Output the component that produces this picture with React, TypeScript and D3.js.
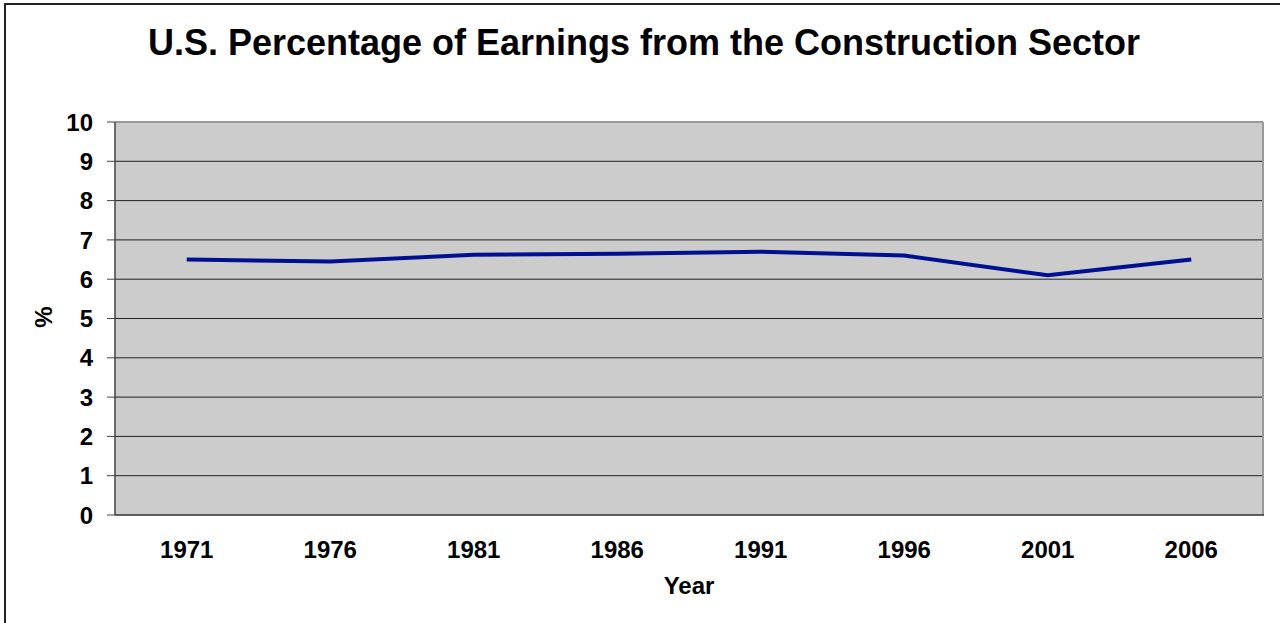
import React from "react";
import * as d3 from "d3";

const years = ["1971", "1976", "1981", "1986", "1991", "1996", "2001", "2006"];
const percent = [6.5, 6.45, 6.62, 6.65, 6.7, 6.6, 6.1, 6.5];
const yTicks = [0, 1, 2, 3, 4, 5, 6, 7, 8, 9, 10];

const W = 1280;
const H = 623;
const plot = { left: 115, right: 1263, top: 122, bottom: 515 };
const font = "'Liberation Sans', Arial, sans-serif";

export default function App() {
  const x = d3
    .scaleBand<string>()
    .domain(years)
    .range([plot.left, plot.right]);
  const y = d3.scaleLinear().domain([0, 10]).range([plot.bottom, plot.top]);

  const line = d3
    .line<number>()
    .x((_, i) => (x(years[i]) ?? 0) + x.bandwidth() / 2)
    .y((d) => y(d));

  return (
    <div style={{ position: "fixed", left: 0, top: 0 }}>
      <svg width={W} height={H} style={{ display: "block", fontFamily: font }}>
        <rect x={0} y={0} width={W} height={H} fill="#fff" />
        {/* chart frame, runs off the right and bottom edges */}
        <rect x={5} y={4} width={W + 20} height={H + 20} fill="none" stroke="#222" strokeWidth={2} />

        <text x={644} y={55} textAnchor="middle" fontSize={36} fontWeight="bold">
          U.S. Percentage of Earnings from the Construction Sector
        </text>

        <rect
          x={plot.left}
          y={plot.top}
          width={plot.right - plot.left}
          height={plot.bottom - plot.top}
          fill="#cccccc"
        />

        {/* gridlines */}
        {yTicks.slice(1, -1).map((t) => (
          <line key={t} x1={plot.left} x2={plot.right} y1={y(t)} y2={y(t)} stroke="#222" strokeWidth={1} />
        ))}
        {/* plot border: top/right lighter */}
        <line x1={plot.left} x2={plot.right} y1={plot.top} y2={plot.top} stroke="#999" strokeWidth={2} />
        <line x1={plot.right} x2={plot.right} y1={plot.top} y2={plot.bottom} stroke="#999" strokeWidth={2} />
        <line x1={plot.left} x2={plot.left} y1={plot.top} y2={plot.bottom} stroke="#444" strokeWidth={1.5} />
        <line x1={plot.left} x2={plot.right + 1} y1={plot.bottom} y2={plot.bottom} stroke="#333" strokeWidth={1.5} />

        {/* y ticks */}
        {yTicks.map((t) => (
          <g key={t}>
            <line x1={plot.left - 8} x2={plot.left} y1={y(t)} y2={y(t)} stroke="#444" strokeWidth={1} />
            <text x={93} y={y(t)} dy="0.36em" textAnchor="end" fontSize={24} fontWeight="bold">
              {t}
            </text>
          </g>
        ))}

        {/* x labels */}
        {years.map((yr) => (
          <text
            key={yr}
            x={(x(yr) ?? 0) + x.bandwidth() / 2}
            y={558}
            textAnchor="middle"
            fontSize={24}
            fontWeight="bold"
          >
            {yr}
          </text>
        ))}

        <path d={line(percent) ?? ""} fill="none" stroke="#001090" strokeWidth={4} />

        <text x={689} y={594} textAnchor="middle" fontSize={24} fontWeight="bold">
          Year
        </text>
        <text
          transform={`translate(${52},${317}) rotate(-90)`}
          textAnchor="middle"
          fontSize={24}
          fontWeight="bold"
        >
          %
        </text>
      </svg>
    </div>
  );
}
